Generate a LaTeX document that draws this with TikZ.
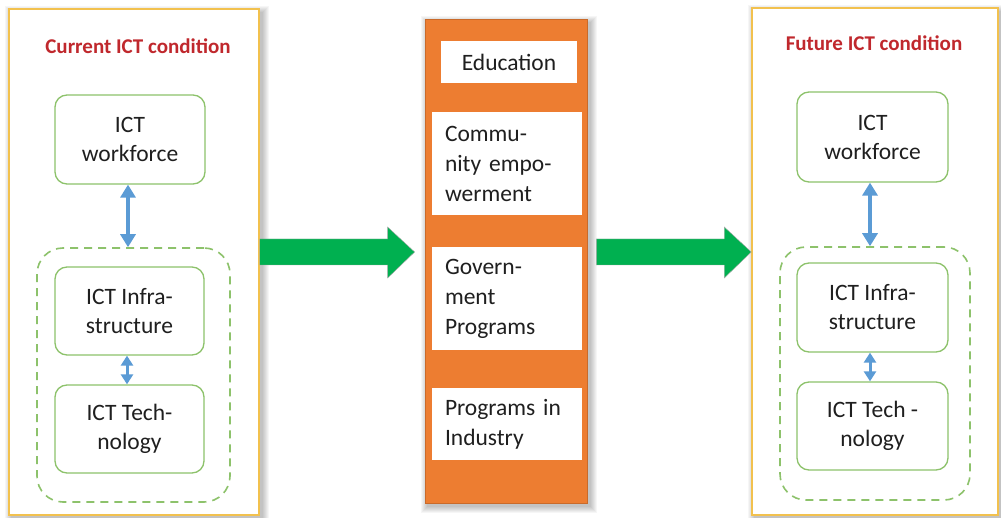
\documentclass[tikz,border=0pt]{standalone}
\usepackage{fontspec}
\setmainfont{Carlito}
\usetikzlibrary{arrows.meta,calc}
\definecolor{panelgold}{HTML}{F2C14E}
\definecolor{boxgreen}{HTML}{8DC26B}
\definecolor{titlered}{HTML}{C0282D}
\definecolor{midorange}{HTML}{ED7D31}
\definecolor{arrowgreen}{HTML}{00B050}
\definecolor{linkblue}{HTML}{5B9BD5}
\definecolor{txt}{HTML}{1F1F1F}
\tikzset{
  panel/.style={draw=panelgold, line width=1.5pt, fill=white, inner sep=0pt},
  softshadow/.style={fill=black, opacity=0.035},
  ptitle/.style={text=titlered, font=\fontsize{21pt}{25pt}\selectfont\bfseries, inner sep=0pt},
  ictbox/.style={draw=boxgreen, line width=1.3pt, rounded corners=12pt, fill=white,
    align=center, text=txt, font=\fontsize{23.5pt}{29pt}\selectfont, inner sep=0pt},
  groupbox/.style={draw=boxgreen, line width=1.6pt, dash pattern=on 8pt off 6pt,
    rounded corners=26pt, inner sep=0pt},
  midbox/.style={fill=midorange, draw=midorange!85!black, line width=0.8pt, inner sep=0pt},
  whitebox/.style={fill=white, text=txt, font=\fontsize{23.5pt}{30pt}\selectfont,
    inner sep=0pt, minimum width=150pt, text width=124pt, align=left},
  link/.style={draw=linkblue, line width=3.6pt,
    {Triangle[width=15pt,length=13pt]}-{Triangle[width=15pt,length=13pt]}},
  smalllink/.style={draw=linkblue, line width=3pt,
    {Triangle[width=12pt,length=10pt]}-{Triangle[width=12pt,length=10pt]}},
  bigarrow/.style={fill=arrowgreen, draw=black!35, line width=0.4pt}
}
\begin{document}
\begin{tikzpicture}[x=1pt,y=-1pt]
\useasboundingbox (0,0) rectangle (1001,518);
\fill[white] (0,0) rectangle (1001,518);
% soft shadows
\foreach \i in {1,...,7}{
  \fill[softshadow] (9-\i+3,9-\i+4) rectangle (259+\i+3,515+\i+3);
  \fill[softshadow] (425-\i+3,19-\i+4) rectangle (587+\i+3,503+\i+3);
  \fill[softshadow] (752-\i+3,8-\i+4) rectangle (998+\i+3,515+\i+3);
}
% ---- left panel
\node[panel, minimum width=250pt, minimum height=506pt] (lp) at (134,262) {};
\node[ptitle] (lt) at (138,46) {Current ICT condition};
\node[ictbox, minimum width=150pt, minimum height=89pt] (wf1) at (130,139.5) {ICT\\workforce};
\node[groupbox, minimum width=193pt, minimum height=254pt] (g1) at (133.5,375) {};
\node[ictbox, minimum width=149pt, minimum height=88pt] (inf1) at (129.5,311) {ICT Infra-\\structure};
\node[ictbox, minimum width=149pt, minimum height=88pt] (tech1) at (129.5,429) {ICT Tech-\\nology};
\draw[link] (wf1.south -| 128,0) -- (g1.north -| 128,0);
\draw[smalllink] (inf1.south -| 127,0) -- (tech1.north -| 127,0);
% ---- middle
\node[midbox, minimum width=162pt, minimum height=484pt] (mid) at (506,261) {};
\node[whitebox, minimum width=136pt, text width=136pt, align=center, minimum height=42pt] (edu) at (509,62) {Education};
\node[whitebox, minimum height=103pt] (com) at (507,163.5) {Commu-\\nity empo-\\werment};
\node[whitebox, minimum height=103pt] (gov) at (507,298.5) {Govern-\\ment\\Programs};
\node[whitebox, minimum height=72pt] (ind) at (507,424) {Programs in\\Industry};
% ---- right panel
\node[panel, minimum width=246pt, minimum height=507pt] (rp) at (875,261.5) {};
\node[ptitle] (rt) at (874,43) {Future ICT condition};
\node[ictbox, minimum width=151pt, minimum height=90pt] (wf2) at (872.5,137) {ICT\\workforce};
\node[groupbox, minimum width=190pt, minimum height=253pt] (g2) at (875,373.5) {};
\node[ictbox, minimum width=151pt, minimum height=89pt] (inf2) at (872.5,307.5) {ICT Infra-\\structure};
\node[ictbox, minimum width=151pt, minimum height=88pt] (tech2) at (872.5,426) {ICT Tech -\\nology};
\draw[link] (wf2.south -| 870,0) -- (g2.north -| 870,0);
\draw[smalllink] (inf2.south -| 870,0) -- (tech2.north -| 870,0);
% ---- green arrows
\coordinate (a1s) at (lp.east |- 0,252);
\coordinate (a1t) at ($(mid.west |- 0,252)+(-10,0)$);
\fill[bigarrow]
  ($(a1s)+(0,-13)$) -- ($(a1t)+(-27,-13)$) -- ($(a1t)+(-27,-25)$) -- (a1t)
  -- ($(a1t)+(-27,26)$) -- ($(a1t)+(-27,13)$) -- ($(a1s)+(0,13)$) -- cycle;
\coordinate (a2s) at ($(mid.east |- 0,252)+(9,0)$);
\coordinate (a2t) at (rp.west |- 0,252);
\fill[bigarrow]
  ($(a2s)+(0,-13)$) -- ($(a2t)+(-27,-13)$) -- ($(a2t)+(-27,-25)$) -- (a2t)
  -- ($(a2t)+(-27,26)$) -- ($(a2t)+(-27,13)$) -- ($(a2s)+(0,13)$) -- cycle;
\end{tikzpicture}
\end{document}
